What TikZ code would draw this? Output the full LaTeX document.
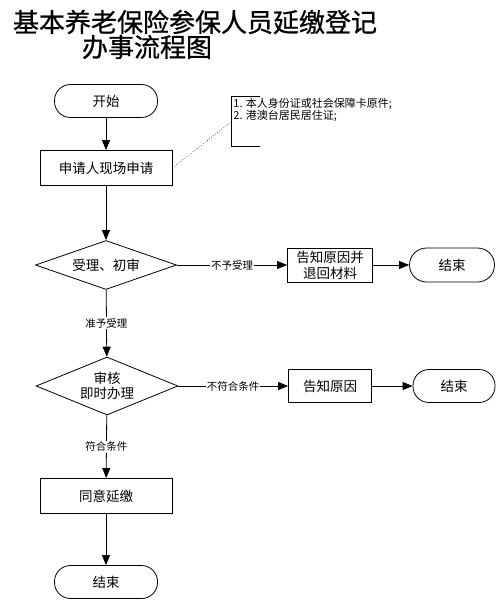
\documentclass[tikz,border=0pt]{standalone}
\usepackage{fontspec}
\setmainfont{Noto Sans CJK SC}
\newfontfamily\titlefont[FakeBold=0.8]{Noto Sans CJK SC}
\usetikzlibrary{shapes.geometric, arrows.meta}

\begin{document}
\begin{tikzpicture}[x=1pt, y=-1pt, line width=0.8pt,
		term/.style={draw, rounded corners=16pt, minimum width=103pt, minimum height=33pt, font=\fontsize{13.5}{16}\selectfont},
		proc/.style={draw, minimum height=35pt, inner sep=2pt, align=center, font=\fontsize{13.5}{16}\selectfont},
		check/.style={draw, diamond, aspect=2.9, inner sep=1pt, align=center, minimum width=141pt, font=\fontsize{13.5}{15}\selectfont},
		arr/.style={-{Triangle[length=10pt, width=8pt]}},
		lbl/.style={fill=white, inner sep=1pt, font=\fontsize{10.5}{12}\selectfont}]
		\useasboundingbox (0, 0) rectangle (502, 609);

		\node (title1) at (195, 22) {\titlefont\fontsize{26}{30}\selectfont 基本养老保险参保人员延缴登记};
		\node (title2) at (147, 47) {\titlefont\fontsize{26}{30}\selectfont 办事流程图};

		\node[term] (start) at (106, 101) {开始};
		\node[proc, minimum width=132pt] (apply) at (106, 168) {申请人现场申请};
		\node[check, minimum height=49pt] (check1) at (106, 265) {受理、初审};
		\node[check, minimum height=58pt] (check2) at (107, 386) {审核\\即时办理};
		\node[proc, minimum width=132pt] (agree) at (106, 496) {同意延缴};
		\node[term] (end3) at (106, 582) {结束};

		\node[proc, minimum width=85pt, minimum height=34pt] (notice1) at (330, 265) {告知原因并\\退回材料};
		\node[term, minimum width=85pt, minimum height=34pt, rounded corners=17pt] (end1) at (452, 265) {结束};
		\node[proc, minimum width=83pt, minimum height=33pt] (notice2) at (330, 386) {告知原因};
		\node[term, minimum width=82pt, rounded corners=16pt] (end2) at (454, 386) {结束};

		% materials note
		\coordinate (bracket) at (231, 122);
		\draw (260, 96) -| (231, 146) -- (260, 146);
		\node[anchor=north west, align=left, inner sep=1pt, font=\fontsize{11}{11.5}\selectfont] (note) at (232, 97) {1. 本人身份证或社会保障卡原件;\\2. 港澳台居民居住证;};
		\draw[dotted, line width=0.6pt] (apply.east) -- (bracket);

		\draw[arr] (start) -- (apply);
		\draw[arr] (apply) -- (check1);
		\draw[arr] (check1) -- node[lbl] {不予受理} (notice1);
		\draw[arr] (notice1) -- (end1);
		\draw[arr] (check1) -- node[lbl] {准予受理} (check2);
		\draw[arr] (check2) -- node[lbl] {不符合条件} (notice2);
		\draw[arr] (notice2) -- (end2);
		\draw[arr] (check2) -- node[lbl] {符合条件} (agree);
		\draw[arr] (agree) -- (end3);
	\end{tikzpicture}
\end{document}
